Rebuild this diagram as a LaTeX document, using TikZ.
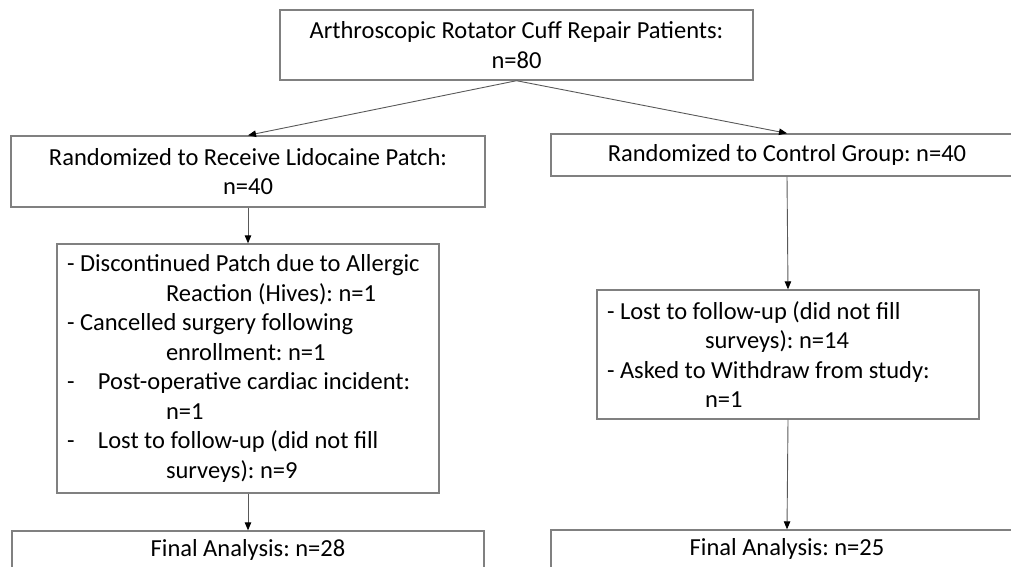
\documentclass[tikz,border=0pt]{standalone}
\usepackage{fontspec}
\setmainfont{Carlito}
\usepackage{xcolor}
\usetikzlibrary{arrows.meta}
\definecolor{boxgray}{HTML}{808080}
\definecolor{linegray}{HTML}{595959}
\frenchspacing

\begin{document}
\begin{tikzpicture}[x=1pt,y=-1pt,>={Triangle[length=8pt,width=6.5pt,color=black]},
                    font=\fontsize{24.5}{29.5}\selectfont,
                    box node/.style={draw=boxgray,line width=1.4pt,inner sep=0pt,align=center},
                    list node/.style={box node,align=flush left,inner xsep=7pt,text width=368pt},
                    arrow line/.style={draw=linegray,line width=0.9pt,->}]

  \useasboundingbox (0,0) rectangle (1011,566);

  \node[box node,minimum width=473pt,minimum height=70pt] (patients) at (516.5,45)
    {Arthroscopic Rotator Cuff Repair Patients:\\n=80};
  \node[box node,minimum width=474pt,minimum height=71pt] (lidocaine) at (248,171.5)
    {Randomized to Receive Lidocaine Patch:\\n=40};
  \node[box node,minimum width=472pt,minimum height=42pt] (control) at (787,155)
    {Randomized to Control Group: n=40};

  \node[list node,minimum width=382pt,minimum height=249pt] (exclLido) at (248,368.5)
    {\hspace*{3pt}- Discontinued Patch due to Allergic\\
     \hspace*{102pt}Reaction (Hives): n=1\\
     \hspace*{3pt}- Cancelled surgery following\\
     \hspace*{102pt}enrollment: n=1\\
     \hspace*{3pt}\makebox[31pt][l]{-}Post-operative cardiac incident:\\
     \hspace*{102pt}n=1\\
     \hspace*{3pt}\makebox[31pt][l]{-}Lost to follow-up (did not fill\\
     \hspace*{102pt}surveys): n=9};
  \node[list node,minimum width=382pt,minimum height=129pt] (exclCtrl) at (788,354.5)
    {\hspace*{3pt}- Lost to follow-up (did not fill\\
     \hspace*{101pt}surveys): n=14\\
     \hspace*{3pt}- Asked to Withdraw from study:\\
     \hspace*{101pt}n=1};

  \node[box node,minimum width=472pt,minimum height=38pt] (finalLido) at (248,550)
    {Final Analysis: n=28};
  \node[box node,minimum width=472pt,minimum height=38pt] (finalCtrl) at (787,549)
    {Final Analysis: n=25};

  \path
    (patients.south) edge [arrow line] (lidocaine.north)
                     edge [arrow line] (control.north)
    (lidocaine.south) edge [arrow line] (exclLido.north)
    (exclLido.south) edge [arrow line] (finalLido.north)
    (control.south) edge [arrow line] (exclCtrl.north)
    (exclCtrl.south) edge [arrow line] (finalCtrl.north)
    ;
\end{tikzpicture}
\end{document}
